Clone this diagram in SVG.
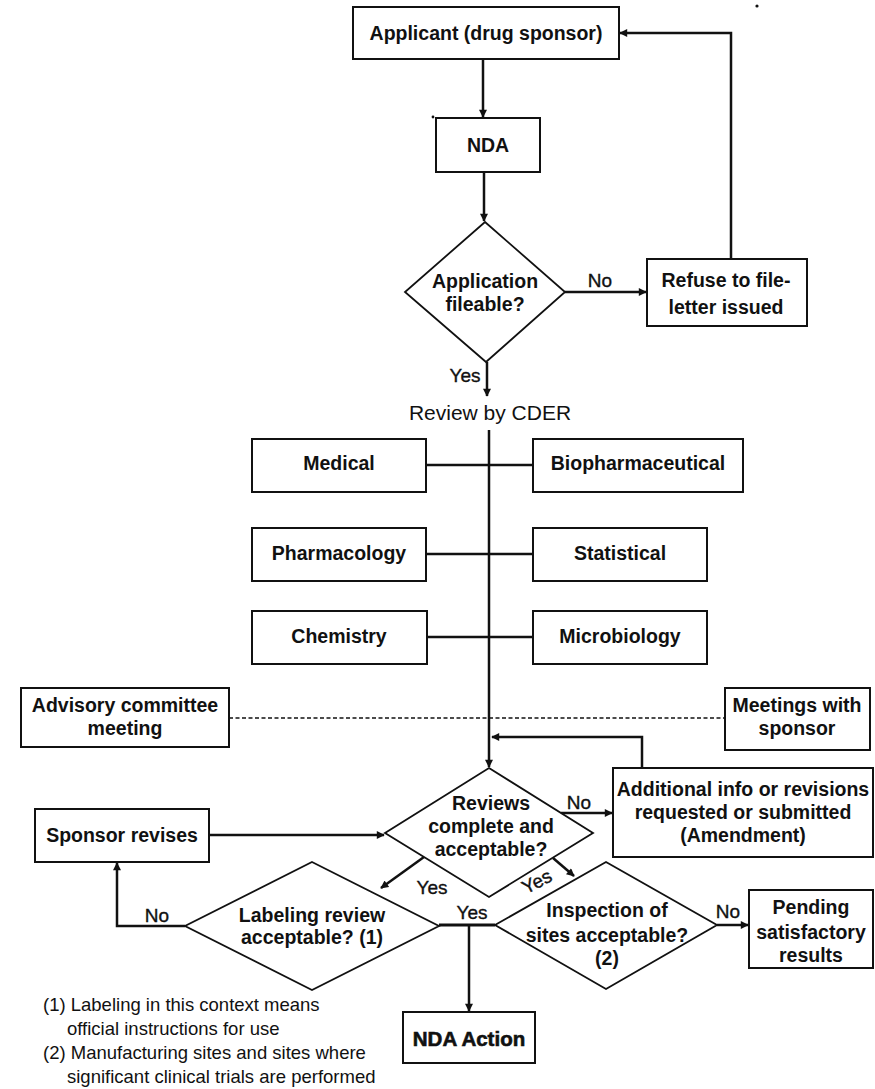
<svg xmlns="http://www.w3.org/2000/svg" width="875" height="1089" viewBox="0 0 875 1089">
  <style>
    .box { fill: #fff; stroke: #111; stroke-width: 2; }
    .dia { fill: #fff; stroke: #111; stroke-width: 1.8; }
    .lbl { font-family: "Liberation Sans", Arial, sans-serif; font-size: 19.5px; font-weight: bold; fill: #111; text-anchor: middle; }
    .big { font-family: "Liberation Sans", Arial, sans-serif; font-size: 20.5px; font-weight: bold; fill: #111; stroke: #111; stroke-width: 0.6; text-anchor: middle; }
    .yn { font-family: "Liberation Sans", Arial, sans-serif; font-size: 19px; fill: #111; stroke: #111; stroke-width: 0.35; text-anchor: middle; }
    .plain { font-family: "Liberation Sans", Arial, sans-serif; font-size: 21px; fill: #111; text-anchor: middle; }
    .note { font-family: "Liberation Sans", Arial, sans-serif; font-size: 18.5px; fill: #111; }
    .ln { fill: none; stroke: #111; stroke-width: 2.5; }
    .thin { fill: none; stroke: #111; stroke-width: 2.6; }
    .dash { fill: none; stroke: #111; stroke-width: 1.6; stroke-dasharray: 4 2.5; }
  </style>
  <defs>
    <marker id="arr" viewBox="0 0 10 10" refX="9" refY="5" markerWidth="9" markerHeight="8" markerUnits="userSpaceOnUse" orient="auto">
      <path d="M0,0 L10,5 L0,10 z" fill="#111"/>
    </marker>
  </defs>

  <rect width="875" height="1089" fill="#fff"/>

  <!-- connectors -->
  <g id="connectors">
    <path class="ln" d="M483,59 V117" marker-end="url(#arr)"/>
    <path class="ln" d="M484,172 V221" marker-end="url(#arr)"/>
    <path class="ln" d="M565,292 H646" marker-end="url(#arr)"/>
    <path class="ln" d="M731,259 V33 H620" marker-end="url(#arr)"/>
    <path class="ln" d="M487,362 V396" marker-end="url(#arr)"/>
    <path class="ln" d="M489,430 V767" marker-end="url(#arr)"/>
    <path class="thin" d="M426,465 H533"/>
    <path class="thin" d="M426,554 H533"/>
    <path class="thin" d="M427,637 H533"/>
    <path class="dash" d="M229,718 H725"/>
    <path class="ln" d="M642,768 V737 H492" marker-end="url(#arr)"/>
    <path class="ln" d="M561,813 H612" marker-end="url(#arr)"/>
    <path class="ln" d="M209,835 H384" marker-end="url(#arr)"/>
    <path class="ln" d="M424,857 L381,888" marker-end="url(#arr)"/>
    <path class="ln" d="M553,858 L574,876" marker-end="url(#arr)"/>
    <path class="ln" d="M185,926 H117 V863" marker-end="url(#arr)"/>
    <path class="ln" d="M439,925 H495" style="stroke-width:3"/>
    <path class="ln" d="M469,925 V1011" marker-end="url(#arr)"/>
    <path class="ln" d="M717,925 H748" marker-end="url(#arr)"/>
  </g>

  <!-- branch labels -->
  <g id="branch-labels">
    <text class="yn" x="600" y="287">No</text>
    <text class="yn" x="465" y="382">Yes</text>
    <text class="yn" x="579" y="809">No</text>
    <text class="yn" x="432" y="894">Yes</text>
    <text class="yn" transform="translate(537,882) rotate(-27)" x="0" y="6">Yes</text>
    <text class="yn" x="157" y="922">No</text>
    <text class="yn" x="472" y="919">Yes</text>
    <text class="yn" x="728" y="918">No</text>
  </g>

  <g id="applicant">
    <rect class="box" x="353" y="7" width="266" height="52"/>
    <text class="lbl" x="486" y="40">Applicant (drug sponsor)</text>
  </g>

  <g id="nda">
    <rect class="box" x="436" y="118" width="104" height="54"/>
    <text class="lbl" x="488" y="152">NDA</text>
  </g>

  <g id="fileable">
    <polygon class="dia" points="485,222 565,292 486,362 405,292"/>
    <text class="lbl" x="485" y="288">Application</text>
    <text class="lbl" x="485" y="311">fileable?</text>
  </g>

  <g id="refuse">
    <rect class="box" x="647" y="259" width="160" height="67"/>
    <text class="lbl" x="726" y="287">Refuse to file-</text>
    <text class="lbl" x="726" y="314">letter issued</text>
  </g>

  <g id="review-cder">
    <text class="plain" x="490" y="420">Review by CDER</text>
  </g>

  <g id="medical">
    <rect class="box" x="252" y="439" width="174" height="53"/>
    <text class="lbl" x="339" y="470">Medical</text>
  </g>
  <g id="biopharmaceutical">
    <rect class="box" x="533" y="439" width="210" height="53"/>
    <text class="lbl" x="638" y="470">Biopharmaceutical</text>
  </g>
  <g id="pharmacology">
    <rect class="box" x="252" y="528" width="174" height="53"/>
    <text class="lbl" x="339" y="560">Pharmacology</text>
  </g>
  <g id="statistical">
    <rect class="box" x="533" y="528" width="174" height="53"/>
    <text class="lbl" x="620" y="560">Statistical</text>
  </g>
  <g id="chemistry">
    <rect class="box" x="252" y="611" width="175" height="53"/>
    <text class="lbl" x="339" y="643">Chemistry</text>
  </g>
  <g id="microbiology">
    <rect class="box" x="533" y="611" width="174" height="53"/>
    <text class="lbl" x="620" y="643">Microbiology</text>
  </g>

  <g id="advisory">
    <rect class="box" x="21" y="688" width="208" height="59"/>
    <text class="lbl" x="125" y="712">Advisory committee</text>
    <text class="lbl" x="125" y="735">meeting</text>
  </g>
  <g id="meetings">
    <rect class="box" x="725" y="688" width="145" height="62"/>
    <text class="lbl" x="797" y="712">Meetings with</text>
    <text class="lbl" x="797" y="735">sponsor</text>
  </g>

  <g id="reviews">
    <polygon class="dia" points="489,768 593,833 489,897 385,833"/>
    <text class="lbl" x="491" y="810">Reviews</text>
    <text class="lbl" x="491" y="833">complete and</text>
    <text class="lbl" x="491" y="856">acceptable?</text>
  </g>

  <g id="additional">
    <rect class="box" x="613" y="768" width="260" height="89"/>
    <text class="lbl" x="743" y="796">Additional info or revisions</text>
    <text class="lbl" x="743" y="819">requested or submitted</text>
    <text class="lbl" x="743" y="842">(Amendment)</text>
  </g>

  <g id="sponsor-revises">
    <rect class="box" x="35" y="809" width="174" height="53"/>
    <text class="lbl" x="122" y="842">Sponsor revises</text>
  </g>

  <g id="labeling">
    <polygon class="dia" points="312,862 439,926 312,990 185,926"/>
    <text class="lbl" x="312" y="922">Labeling review</text>
    <text class="lbl" x="312" y="944">acceptable? (1)</text>
  </g>

  <g id="inspection">
    <polygon class="dia" points="606,862 717,925 606,989 495,925"/>
    <text class="lbl" x="607" y="917">Inspection of</text>
    <text class="lbl" x="607" y="942">sites acceptable?</text>
    <text class="lbl" x="607" y="965">(2)</text>
  </g>

  <g id="pending">
    <rect class="box" x="749" y="890" width="124" height="78"/>
    <text class="lbl" x="811" y="914">Pending</text>
    <text class="lbl" x="811" y="939">satisfactory</text>
    <text class="lbl" x="811" y="962">results</text>
  </g>

  <g id="nda-action">
    <rect class="box" x="403" y="1012" width="132" height="51"/>
    <text class="big" x="469" y="1046">NDA Action</text>
  </g>

  <!-- footnotes -->
  <g id="notes">
    <text class="note" x="43" y="1011">(1) Labeling in this context means</text>
    <text class="note" x="67" y="1035">official instructions for use</text>
    <text class="note" x="43" y="1059">(2) Manufacturing sites and sites where</text>
    <text class="note" x="67" y="1083">significant clinical trials are performed</text>
  </g>

  <!-- stray specks -->
  <circle cx="757" cy="6" r="1.6" fill="#111"/>
  <circle cx="433" cy="117" r="1.4" fill="#111"/>
</svg>
